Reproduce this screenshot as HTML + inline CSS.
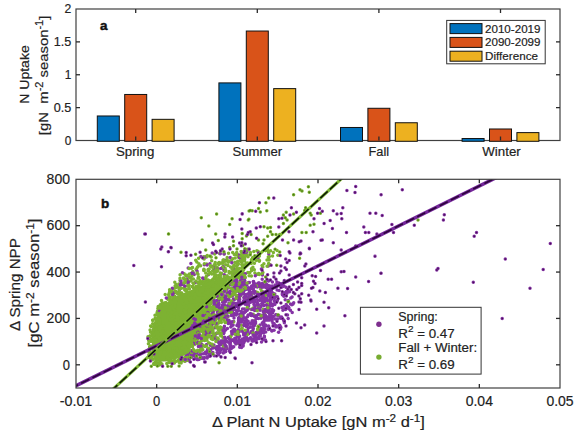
<!DOCTYPE html>
<html><head><meta charset="utf-8"><style>
html,body{margin:0;padding:0;background:#fff;width:575px;height:433px;overflow:hidden}
svg{display:block}
text{font-family:"Liberation Sans", sans-serif;fill:#222;stroke:#222;stroke-width:0.18}
.tk{font-size:12.5px}
.tk2{font-size:14px}
.lab{font-size:13.6px}
.lab2{font-size:14px}
.lg{font-size:11.5px}
.lg2{font-size:12px}
.bold{font-size:13.5px;font-weight:bold;fill:#111;stroke:#111;stroke-width:0.45}
</style></head><body>
<svg width="575" height="433" viewBox="0 0 575 433">
<defs><clipPath id="clipb"><rect x="76" y="179.3" width="484" height="208.7"/></clipPath></defs>
<rect x="76" y="9" width="484" height="131.5" fill="none" stroke="#404040" stroke-width="1.2"/>
<rect x="97.30" y="115.98" width="22" height="25.32" fill="#0072BD" stroke="#111" stroke-width="1"/>
<rect x="124.70" y="94.47" width="22" height="46.83" fill="#D95319" stroke="#111" stroke-width="1"/>
<rect x="152.10" y="119.33" width="22" height="21.97" fill="#EDB120" stroke="#111" stroke-width="1"/>
<rect x="218.90" y="82.90" width="22" height="58.40" fill="#0072BD" stroke="#111" stroke-width="1"/>
<rect x="246.30" y="31.03" width="22" height="110.27" fill="#D95319" stroke="#111" stroke-width="1"/>
<rect x="273.70" y="88.62" width="22" height="52.68" fill="#EDB120" stroke="#111" stroke-width="1"/>
<rect x="340.50" y="127.48" width="22" height="13.82" fill="#0072BD" stroke="#111" stroke-width="1"/>
<rect x="367.90" y="108.28" width="22" height="33.02" fill="#D95319" stroke="#111" stroke-width="1"/>
<rect x="395.30" y="122.75" width="22" height="18.55" fill="#EDB120" stroke="#111" stroke-width="1"/>
<rect x="462.10" y="138.53" width="22" height="2.77" fill="#0072BD" stroke="#111" stroke-width="1"/>
<rect x="489.50" y="128.99" width="22" height="12.31" fill="#D95319" stroke="#111" stroke-width="1"/>
<rect x="516.90" y="132.61" width="22" height="8.69" fill="#EDB120" stroke="#111" stroke-width="1"/>
<text x="71.3" y="144.90" text-anchor="end" class="tk" textLength="6.6" lengthAdjust="spacingAndGlyphs">0</text>
<line x1="76" y1="107.62" x2="80" y2="107.62" stroke="#2a2a2a" stroke-width="1.3"/>
<line x1="560" y1="107.62" x2="556" y2="107.62" stroke="#2a2a2a" stroke-width="1.3"/>
<text x="71.3" y="112.03" text-anchor="end" class="tk" textLength="17.6" lengthAdjust="spacingAndGlyphs">0.5</text>
<line x1="76" y1="74.75" x2="80" y2="74.75" stroke="#2a2a2a" stroke-width="1.3"/>
<line x1="560" y1="74.75" x2="556" y2="74.75" stroke="#2a2a2a" stroke-width="1.3"/>
<text x="71.3" y="79.15" text-anchor="end" class="tk" textLength="6.6" lengthAdjust="spacingAndGlyphs">1</text>
<line x1="76" y1="41.88" x2="80" y2="41.88" stroke="#2a2a2a" stroke-width="1.3"/>
<line x1="560" y1="41.88" x2="556" y2="41.88" stroke="#2a2a2a" stroke-width="1.3"/>
<text x="71.3" y="46.27" text-anchor="end" class="tk" textLength="17.6" lengthAdjust="spacingAndGlyphs">1.5</text>
<text x="71.3" y="13.40" text-anchor="end" class="tk" textLength="6.8" lengthAdjust="spacingAndGlyphs">2</text>
<line x1="135.70" y1="140.5" x2="135.70" y2="136.5" stroke="#2a2a2a" stroke-width="1.3"/>
<line x1="135.70" y1="9" x2="135.70" y2="13" stroke="#2a2a2a" stroke-width="1.3"/>
<text x="135.10" y="155.8" text-anchor="middle" class="tk" textLength="38.4" lengthAdjust="spacingAndGlyphs">Spring</text>
<line x1="257.30" y1="140.5" x2="257.30" y2="136.5" stroke="#2a2a2a" stroke-width="1.3"/>
<line x1="257.30" y1="9" x2="257.30" y2="13" stroke="#2a2a2a" stroke-width="1.3"/>
<text x="257.25" y="155.8" text-anchor="middle" class="tk" textLength="49.7" lengthAdjust="spacingAndGlyphs">Summer</text>
<line x1="378.90" y1="140.5" x2="378.90" y2="136.5" stroke="#2a2a2a" stroke-width="1.3"/>
<line x1="378.90" y1="9" x2="378.90" y2="13" stroke="#2a2a2a" stroke-width="1.3"/>
<text x="378.80" y="155.8" text-anchor="middle" class="tk" textLength="20.6" lengthAdjust="spacingAndGlyphs">Fall</text>
<line x1="500.50" y1="140.5" x2="500.50" y2="136.5" stroke="#2a2a2a" stroke-width="1.3"/>
<line x1="500.50" y1="9" x2="500.50" y2="13" stroke="#2a2a2a" stroke-width="1.3"/>
<text x="501.55" y="155.8" text-anchor="middle" class="tk" textLength="38.5" lengthAdjust="spacingAndGlyphs">Winter</text>
<text x="100" y="29.9" class="bold">a</text>
<text transform="translate(28.8,74.5) rotate(-90)" text-anchor="middle" class="lab" textLength="58.5" lengthAdjust="spacingAndGlyphs">N Uptake</text>
<text transform="translate(48.3,75.4) rotate(-90)" text-anchor="middle" class="lab" textLength="119.5" lengthAdjust="spacingAndGlyphs">[gN&#160; m<tspan dy="-5.5" font-size="10">-2</tspan><tspan dy="5.5"> season</tspan><tspan dy="-5.5" font-size="10">-1</tspan><tspan dy="5.5">]</tspan></text>
<rect x="446.7" y="20.4" width="98.5" height="43.4" fill="#fff" stroke="#333" stroke-width="1"/>
<rect x="450" y="23.60" width="32" height="10" fill="#0072BD" stroke="#111" stroke-width="1"/>
<text x="485" y="32.60" class="lg" textLength="55.5" lengthAdjust="spacingAndGlyphs">2010-2019</text>
<rect x="450" y="37.40" width="32" height="10" fill="#D95319" stroke="#111" stroke-width="1"/>
<text x="485" y="46.40" class="lg" textLength="55.5" lengthAdjust="spacingAndGlyphs">2090-2099</text>
<rect x="450" y="51.20" width="32" height="10" fill="#EDB120" stroke="#111" stroke-width="1"/>
<text x="485" y="60.20" class="lg" textLength="53" lengthAdjust="spacingAndGlyphs">Difference</text>
<g clip-path="url(#clipb)"><style>.dg{stroke:#7DB232;stroke-width:3.5;stroke-linecap:round;fill:none}.dp{stroke:#8533A5;stroke-width:3.5;stroke-linecap:round;fill:none}.eg{stroke:#4a7818;stroke-width:1.7;stroke-linecap:round;fill:none}.ep{stroke:#4a1258;stroke-width:1.7;stroke-linecap:round;fill:none}</style><path class="dp" d="M260.4 330.0h0M263.9 325.8h0"/><path class="dg" d="M193.4 278.9h0M241.2 277.8h0M258.7 273.4h0"/><path class="dp" d="M257.1 337.8h0"/><path class="dg" d="M258.2 251.6h0M221.6 273.6h0"/><path class="dp" d="M244.2 282.9h0M264.0 327.5h0"/><path class="dg" d="M155.1 318.6h0M196.5 269.6h0M246.9 251.6h0"/><path class="dp" d="M269.2 310.8h0"/><path class="dg" d="M195.2 288.2h0M253.8 251.4h0"/><path class="dp" d="M214.1 267.4h0"/><path class="dg" d="M244.4 258.1h0M199.4 328.2h0"/><path class="dp" d="M254.7 337.1h0"/><path class="dg" d="M227.2 257.6h0M218.7 297.0h0M223.1 260.3h0"/><path class="dp" d="M194.2 274.5h0"/><path class="dg" d="M262.1 265.6h0"/><path class="dp" d="M270.3 297.9h0M198.6 283.0h0M276.2 285.4h0M270.7 294.6h0"/><path class="dg" d="M229.4 282.3h0M189.0 288.3h0"/><path class="dp" d="M256.1 335.2h0M262.5 283.2h0M229.3 350.9h0"/><path class="dg" d="M220.7 277.8h0"/><path class="dp" d="M179.6 289.5h0"/><path class="dg" d="M185.2 357.6h0"/><path class="dp" d="M208.3 350.7h0M293.7 302.7h0"/><path class="dg" d="M161.5 300.4h0M237.7 277.6h0M186.1 290.4h0"/><path class="dp" d="M201.2 357.0h0"/><path class="dg" d="M234.9 273.7h0M247.6 264.5h0M165.9 303.2h0"/><path class="dp" d="M190.1 352.5h0M224.3 274.8h0"/><path class="dg" d="M222.1 268.2h0M212.7 270.8h0M256.9 250.7h0"/><path class="dp" d="M258.4 282.9h0M273.6 310.4h0M208.3 274.8h0M262.6 332.0h0M203.5 353.7h0"/><path class="dg" d="M250.1 254.2h0M229.9 281.4h0M241.4 271.4h0M200.7 283.3h0M247.4 264.3h0M179.0 361.9h0M200.7 327.2h0M193.0 283.1h0M218.8 275.6h0"/><path class="dp" d="M260.3 336.1h0M275.4 319.1h0M220.9 350.1h0"/><path class="dg" d="M151.6 356.1h0M166.0 302.7h0M211.2 257.1h0M202.7 281.6h0"/><path class="dp" d="M288.2 318.5h0"/><path class="dg" d="M170.9 362.1h0M228.3 262.2h0"/><path class="dp" d="M288.1 307.2h0M188.9 360.8h0"/><path class="dg" d="M198.1 266.5h0M177.6 293.4h0M233.8 269.5h0"/><path class="dp" d="M201.2 354.0h0"/><path class="dg" d="M206.7 263.9h0M215.3 266.8h0M178.1 294.1h0M215.2 304.3h0"/><path class="dp" d="M253.5 281.4h0"/><path class="dg" d="M149.3 356.9h0M211.7 260.8h0M181.7 293.0h0"/><path class="dp" d="M271.1 290.8h0"/><path class="dg" d="M219.7 277.2h0M251.4 275.9h0M150.6 341.3h0M184.0 279.0h0M199.9 282.8h0"/><path class="dp" d="M270.7 297.9h0M267.7 317.3h0M284.7 309.3h0M270.0 305.0h0M290.5 304.1h0M256.8 338.2h0"/><path class="dg" d="M205.6 319.0h0"/><path class="dp" d="M257.4 333.6h0M272.3 319.3h0"/><path class="dg" d="M197.0 330.7h0M212.2 307.3h0M228.8 280.0h0M150.3 352.4h0M249.9 272.5h0M232.2 279.7h0M170.4 296.9h0"/><path class="dp" d="M284.3 322.7h0M277.4 318.9h0"/><path class="dg" d="M193.4 352.6h0M241.1 251.6h0M213.4 270.9h0"/><path class="dp" d="M263.7 324.3h0"/><path class="dg" d="M239.8 255.3h0"/><path class="dp" d="M186.1 357.1h0"/><path class="dg" d="M159.6 362.3h0M161.5 305.0h0M181.7 361.0h0M218.9 294.0h0M214.3 304.0h0"/><path class="dp" d="M288.7 307.3h0"/><path class="dg" d="M215.2 262.6h0M148.7 340.2h0"/><path class="dp" d="M255.0 340.7h0M290.4 310.2h0"/><path class="dg" d="M217.3 267.5h0M254.9 273.1h0"/><path class="dp" d="M283.3 294.6h0M274.8 294.1h0M199.0 331.7h0M251.8 339.3h0M276.0 287.1h0M276.2 315.1h0"/><path class="dg" d="M158.8 307.7h0M223.1 288.8h0"/><path class="dp" d="M233.7 267.9h0M196.1 358.3h0M202.7 277.9h0"/><path class="dg" d="M155.0 315.3h0M148.7 351.7h0"/><path class="dp" d="M225.3 348.5h0"/><path class="dg" d="M167.8 299.2h0"/><path class="dp" d="M195.5 354.7h0"/><path class="dg" d="M240.6 259.2h0"/><path class="dp" d="M261.4 328.4h0"/><path class="dg" d="M191.9 275.7h0M243.3 265.4h0"/><path class="dp" d="M269.4 328.6h0M262.2 331.8h0"/><path class="dg" d="M214.4 304.1h0"/><path class="dp" d="M196.1 357.9h0"/><path class="dg" d="M181.5 359.7h0M210.3 272.5h0M240.9 261.7h0M238.1 273.1h0"/><path class="dp" d="M284.2 321.1h0"/><path class="dg" d="M157.9 308.5h0M157.2 312.5h0"/><path class="dp" d="M213.4 266.5h0M275.3 325.8h0"/><path class="dg" d="M233.5 267.3h0M215.6 276.3h0"/><path class="dp" d="M209.7 353.6h0M269.1 327.7h0M185.5 360.2h0"/><path class="dg" d="M193.6 288.2h0M176.0 284.4h0M150.4 346.1h0M220.5 275.4h0M156.7 362.4h0"/><path class="dp" d="M257.8 331.9h0"/><path class="dg" d="M168.5 297.8h0M243.4 266.6h0M236.0 281.4h0"/><path class="dp" d="M243.8 342.7h0"/><path class="dg" d="M180.2 361.0h0"/><path class="dp" d="M272.8 310.8h0"/><path class="dg" d="M259.3 261.2h0M150.6 326.0h0"/><path class="dp" d="M253.3 339.6h0"/><path class="dg" d="M207.2 255.4h0M188.3 283.9h0"/><path class="dp" d="M242.2 259.9h0M267.8 290.2h0M266.0 326.1h0"/><path class="dg" d="M242.6 274.5h0M150.6 332.2h0M184.2 273.7h0"/><path class="dp" d="M243.0 344.8h0"/><path class="dg" d="M184.7 290.0h0"/><path class="dp" d="M270.2 305.1h0"/><path class="dg" d="M199.0 277.4h0"/><path class="dp" d="M196.0 356.7h0M286.3 291.4h0M268.3 266.1h0M191.6 357.2h0"/><path class="dg" d="M270.6 250.8h0M151.5 326.6h0M241.0 278.2h0"/><path class="dp" d="M237.7 255.0h0"/><path class="dg" d="M172.0 291.4h0"/><path class="dp" d="M214.6 269.9h0"/><path class="dg" d="M199.0 327.0h0"/><path class="dp" d="M195.5 335.1h0M285.2 299.7h0M268.1 310.4h0"/><path class="dg" d="M242.0 257.5h0M149.7 340.8h0M205.0 278.5h0"/><path class="dp" d="M278.7 315.7h0"/><path class="dg" d="M251.7 270.4h0M239.8 273.7h0"/><path class="dp" d="M274.2 323.7h0M272.3 309.8h0"/><path class="dg" d="M252.9 267.3h0M204.8 317.9h0M155.2 362.0h0"/><path class="dp" d="M292.1 297.0h0M195.4 282.4h0"/><path class="dg" d="M216.2 271.9h0"/><path class="dp" d="M260.6 333.7h0"/><path class="dg" d="M217.8 270.9h0M197.8 286.3h0M229.7 277.8h0"/><path class="dp" d="M204.3 264.8h0M271.0 315.0h0"/><path class="dg" d="M242.6 272.4h0"/><path class="dp" d="M203.9 358.7h0"/><path class="dg" d="M242.0 253.2h0"/><path class="dp" d="M194.6 354.0h0M174.1 292.8h0M256.1 338.8h0M282.4 294.7h0"/><path class="dg" d="M178.8 292.3h0"/><path class="dp" d="M258.0 257.9h0M252.9 341.0h0"/><path class="dg" d="M247.1 264.8h0"/><path class="dp" d="M271.9 330.6h0M219.5 352.4h0M199.2 359.3h0"/><path class="dg" d="M161.6 306.3h0"/><path class="dp" d="M203.7 278.5h0"/><path class="dg" d="M186.3 289.3h0M198.5 276.9h0M219.2 277.2h0M162.8 303.1h0M204.9 256.7h0M236.1 281.5h0M204.1 259.0h0M169.1 362.6h0"/><path class="dp" d="M212.9 352.6h0M264.5 319.9h0"/><path class="dg" d="M155.0 364.3h0M224.2 253.8h0"/><path class="dp" d="M263.4 339.7h0M281.6 317.1h0M238.6 255.1h0"/><path class="dg" d="M243.2 260.3h0M265.7 250.6h0"/><path class="dp" d="M271.7 293.1h0M220.2 352.2h0M270.1 302.1h0"/><path class="dg" d="M269.3 256.6h0"/><path class="dp" d="M263.1 285.2h0"/><path class="dg" d="M236.6 269.0h0M150.1 329.9h0M148.4 343.8h0M177.4 287.1h0M222.0 262.7h0M155.5 318.3h0"/><path class="dp" d="M266.3 317.0h0M224.5 349.6h0"/><path class="dg" d="M206.3 279.7h0"/><path class="dp" d="M284.0 306.4h0"/><path class="dg" d="M188.8 356.3h0"/><path class="dp" d="M190.9 263.6h0M266.0 319.9h0M276.9 282.0h0"/><path class="dg" d="M190.9 281.0h0"/><path class="dp" d="M265.7 281.6h0"/><path class="dg" d="M226.9 259.4h0M254.4 263.2h0M151.9 354.4h0M269.8 264.6h0"/><path class="dp" d="M233.8 282.6h0M264.4 336.3h0"/><path class="dg" d="M208.6 281.0h0"/><path class="dp" d="M211.1 353.0h0"/><path class="dg" d="M197.2 286.4h0M192.8 271.4h0"/><path class="dp" d="M288.3 300.5h0"/><path class="dg" d="M188.6 359.4h0M150.1 346.8h0"/><path class="dp" d="M224.2 351.2h0"/><path class="dg" d="M189.2 285.4h0M277.1 250.6h0"/><path class="dp" d="M267.3 320.1h0"/><path class="dg" d="M247.6 263.1h0M183.2 284.6h0"/><path class="dp" d="M232.8 347.3h0M193.5 352.6h0"/><path class="dg" d="M214.7 270.9h0"/><path class="dp" d="M250.8 338.3h0"/><path class="dg" d="M193.3 273.1h0M178.8 284.1h0M161.8 307.1h0"/><path class="dp" d="M265.8 325.2h0"/><path class="dg" d="M173.1 295.3h0M175.3 290.9h0"/><path class="dp" d="M272.9 304.6h0"/><path class="dg" d="M185.7 289.6h0M213.1 279.1h0"/><path class="dp" d="M253.3 281.8h0M268.3 288.1h0"/><path class="dg" d="M210.7 309.4h0"/><path class="dp" d="M284.1 292.7h0"/><path class="dg" d="M196.1 269.2h0M192.5 267.4h0M165.2 302.8h0M168.9 298.3h0M175.6 361.4h0"/><path class="dp" d="M191.8 356.8h0"/><path class="dg" d="M152.8 320.3h0"/><path class="dp" d="M185.3 361.0h0"/><path class="dg" d="M187.9 359.9h0M176.1 292.2h0M232.0 276.5h0M160.4 309.9h0M242.1 278.5h0"/><path class="dp" d="M200.0 326.6h0M207.3 356.8h0M271.7 298.9h0M279.6 325.3h0M191.5 273.3h0"/><path class="dg" d="M214.4 277.9h0"/><path class="dp" d="M267.7 317.6h0"/><path class="dg" d="M243.7 269.5h0"/><path class="dp" d="M225.7 351.6h0M274.5 298.5h0"/><path class="dg" d="M240.4 280.0h0M219.6 253.5h0"/><path class="dp" d="M218.6 354.7h0"/><path class="dg" d="M158.2 306.6h0M196.1 333.1h0"/><path class="dp" d="M293.0 303.9h0M277.4 283.6h0"/><path class="dg" d="M225.2 268.2h0M222.9 262.9h0M246.3 263.3h0M181.5 288.3h0"/><path class="dp" d="M197.3 359.5h0"/><path class="dg" d="M244.1 256.7h0"/><path class="dp" d="M259.3 282.9h0"/><path class="dg" d="M179.5 362.4h0M186.7 358.9h0"/><path class="dp" d="M278.7 325.7h0"/><path class="dg" d="M243.8 251.3h0M234.0 272.1h0"/><path class="dp" d="M268.3 285.4h0"/><path class="dg" d="M242.8 272.3h0"/><path class="dp" d="M271.0 318.3h0M242.9 281.2h0"/><path class="dg" d="M243.2 274.2h0M217.1 278.5h0"/><path class="dp" d="M197.9 332.7h0M188.3 358.9h0"/><path class="dg" d="M189.2 353.0h0M242.8 266.6h0M262.8 266.9h0"/><path class="dp" d="M244.0 280.3h0"/><path class="dg" d="M192.3 286.5h0M230.8 278.8h0M199.1 284.4h0"/><path class="dp" d="M241.1 344.0h0"/><path class="dg" d="M244.7 259.1h0"/><path class="dp" d="M268.4 312.6h0"/><path class="dg" d="M216.4 279.3h0M235.0 279.8h0"/><path class="dp" d="M218.2 349.6h0M212.4 353.5h0"/><path class="dg" d="M217.1 296.2h0M152.3 359.7h0M172.0 294.0h0M227.6 285.7h0M273.4 252.5h0"/><path class="dp" d="M276.0 325.7h0M263.6 325.2h0M193.0 273.3h0"/><path class="dg" d="M151.6 340.4h0M189.4 289.0h0M232.9 276.8h0M203.7 256.8h0M246.8 254.8h0M235.2 258.1h0M226.0 261.0h0M208.7 273.9h0"/><path class="dp" d="M253.7 283.1h0M181.2 283.0h0M275.5 296.6h0"/><path class="dg" d="M237.9 264.6h0M157.5 311.3h0"/><path class="dp" d="M234.6 274.2h0"/><path class="dg" d="M265.4 250.6h0M213.4 306.1h0"/><path class="dp" d="M261.6 332.2h0M280.3 329.3h0"/><path class="dg" d="M180.0 280.5h0M173.3 289.1h0M214.2 264.8h0"/><path class="dp" d="M268.8 253.9h0M159.4 311.2h0"/><path class="dg" d="M187.5 285.9h0M184.5 361.1h0M212.4 280.0h0"/><path class="dp" d="M252.1 340.9h0"/><path class="dg" d="M148.9 354.8h0M229.1 260.9h0M179.1 291.6h0M243.4 265.1h0M228.0 265.5h0M199.2 286.2h0M192.5 354.7h0M259.4 255.9h0M196.8 261.9h0M161.9 303.6h0"/><path class="dp" d="M272.3 306.1h0"/><path class="dg" d="M161.2 307.8h0M192.3 286.7h0M205.2 281.5h0M174.8 282.3h0M204.1 320.8h0M229.2 282.1h0"/><path class="dp" d="M273.3 293.4h0"/><path class="dg" d="M233.0 276.1h0M177.5 293.0h0"/><path class="dp" d="M204.4 357.4h0M265.2 319.7h0"/><path class="dg" d="M242.0 261.8h0M247.2 249.3h0M211.7 274.0h0M159.4 365.0h0M206.3 314.1h0M228.6 284.6h0"/><path class="dp" d="M220.3 253.7h0M263.9 287.0h0"/><path class="dg" d="M229.5 280.2h0M197.2 267.5h0M185.5 356.9h0M215.3 264.8h0"/><path class="dp" d="M274.3 301.3h0M223.2 266.4h0M282.3 293.7h0"/><path class="dg" d="M209.2 268.9h0"/><path class="dp" d="M255.5 340.6h0M270.1 294.4h0M274.0 297.0h0M277.1 290.1h0M273.1 317.1h0M197.0 355.3h0"/><path class="dg" d="M227.1 275.7h0"/><path class="dp" d="M273.1 323.5h0"/><path class="dg" d="M249.1 275.7h0"/><path class="dp" d="M287.0 293.2h0M269.9 286.0h0M292.2 312.6h0M268.5 281.0h0"/><path class="dg" d="M152.7 323.8h0"/><path class="dp" d="M197.2 359.4h0"/><path class="dg" d="M215.7 279.2h0M150.5 335.9h0M169.0 361.3h0M176.2 291.9h0M244.1 274.7h0M175.1 286.0h0"/><path class="dp" d="M272.1 321.2h0M259.2 338.4h0M283.5 319.9h0M264.1 286.4h0"/><path class="dg" d="M150.0 336.1h0M244.5 261.0h0"/><path class="dp" d="M277.4 300.5h0M280.0 326.1h0"/><path class="dg" d="M251.4 268.7h0M232.7 252.6h0M204.1 270.1h0M190.6 278.0h0M257.4 274.2h0M208.3 270.9h0M229.2 278.7h0M178.0 360.5h0"/><path class="dp" d="M274.5 296.9h0"/><path class="dg" d="M235.6 279.6h0M241.8 278.8h0"/><path class="dp" d="M272.2 285.9h0M264.9 325.1h0"/><path class="dg" d="M188.8 354.4h0"/><path class="dp" d="M209.9 263.7h0"/><path class="dg" d="M259.3 260.2h0"/><path class="dp" d="M272.3 304.4h0M231.3 348.6h0M201.9 358.3h0"/><path class="dg" d="M206.3 317.6h0M177.1 286.5h0"/><path class="dp" d="M198.4 359.6h0M250.6 338.2h0M217.4 269.3h0M182.4 272.8h0M278.3 285.2h0"/><path class="dg" d="M236.5 254.8h0"/><path class="dp" d="M264.6 319.1h0"/><path class="dg" d="M269.1 259.9h0M186.7 355.8h0M228.1 284.3h0M244.7 253.4h0M241.9 268.0h0M235.0 274.2h0"/><path class="dp" d="M272.4 281.9h0M290.8 298.0h0"/><path class="dg" d="M225.7 264.8h0"/><path class="dp" d="M208.5 351.4h0M197.1 271.2h0"/><path class="dg" d="M196.0 280.9h0M226.4 286.3h0"/><path class="dp" d="M261.4 268.9h0"/><path class="dg" d="M233.2 282.8h0M175.8 287.5h0M174.6 295.9h0M187.8 280.0h0M262.9 272.4h0M161.9 364.1h0M208.4 270.0h0"/><path class="dp" d="M271.0 317.7h0M196.8 331.0h0"/><path class="dg" d="M251.2 263.5h0M247.8 272.5h0M231.5 260.4h0"/><path class="dp" d="M181.0 281.1h0"/><path class="dg" d="M243.3 260.6h0"/><path class="dp" d="M268.6 325.9h0M277.3 296.8h0M249.4 282.6h0"/><path class="dg" d="M237.7 261.2h0"/><path class="dp" d="M283.0 295.1h0"/><path class="dg" d="M206.9 316.9h0M214.2 273.0h0M191.2 356.5h0"/><path class="dp" d="M220.2 349.6h0M190.5 352.8h0"/><path class="dg" d="M250.4 252.6h0M242.7 277.4h0"/><path class="dp" d="M223.9 270.5h0M271.2 293.9h0M230.1 347.2h0M187.3 354.5h0"/><path class="dg" d="M169.4 298.5h0"/><path class="dp" d="M230.1 349.3h0"/><path class="dg" d="M237.3 269.4h0"/><path class="dp" d="M200.9 256.6h0"/><path class="dg" d="M169.0 297.7h0M228.5 253.2h0"/><path class="dp" d="M239.7 347.3h0M264.6 285.1h0M199.6 351.4h0"/><path class="dg" d="M219.1 262.4h0M222.6 267.1h0"/><path class="dp" d="M181.8 284.6h0M283.9 296.3h0M273.3 316.3h0M286.0 287.3h0M282.9 310.3h0"/><path class="dg" d="M174.3 363.0h0M180.0 278.2h0M243.3 270.1h0"/><path class="dp" d="M284.0 285.9h0M269.1 320.1h0M172.3 288.2h0"/><path class="dg" d="M171.4 361.3h0"/><path class="dp" d="M206.0 353.9h0"/><path class="dg" d="M198.6 258.3h0M235.4 278.7h0"/><path class="dp" d="M269.4 308.2h0"/><path class="dg" d="M225.0 270.9h0M217.0 296.3h0M214.1 274.2h0M179.4 293.3h0"/><path class="dp" d="M265.2 286.3h0M291.9 304.8h0M286.2 304.4h0M255.3 275.8h0"/><path class="dg" d="M168.5 298.8h0"/><path class="dp" d="M256.2 332.4h0"/><path class="dg" d="M224.7 289.1h0M188.6 281.6h0M231.9 272.1h0M171.4 361.7h0M160.3 304.7h0"/><path class="dp" d="M250.6 337.8h0M224.2 260.3h0M262.4 275.0h0M245.2 282.9h0M260.3 330.4h0"/><path class="dg" d="M236.8 266.6h0"/><path class="dp" d="M263.6 332.9h0M285.5 293.9h0M272.0 305.0h0"/><path class="dg" d="M149.9 352.0h0M268.7 259.2h0"/><path class="dp" d="M269.0 319.8h0"/><path class="dg" d="M220.7 263.2h0M204.7 318.5h0"/><path class="dp" d="M260.6 331.6h0M196.8 352.5h0M207.1 265.1h0"/><path class="dg" d="M200.1 280.6h0"/><path class="dp" d="M272.7 312.8h0"/><path class="dg" d="M168.6 294.7h0M173.6 297.1h0M230.5 267.0h0M182.7 359.0h0M238.5 257.3h0"/><path class="dp" d="M193.6 354.3h0M261.2 284.5h0M241.6 281.6h0"/><path class="dg" d="M215.0 304.4h0M212.1 308.9h0"/><path class="dp" d="M262.8 328.9h0M263.8 322.3h0"/><path class="dg" d="M218.8 264.5h0M162.7 304.7h0M149.7 336.6h0M187.1 357.7h0M228.9 282.6h0"/><path class="dp" d="M269.6 318.9h0"/><path class="dg" d="M256.4 260.6h0M268.3 257.1h0"/><path class="dp" d="M226.7 286.1h0"/><path class="dg" d="M203.9 269.2h0M204.4 263.8h0M169.6 289.8h0M192.0 278.9h0M243.3 265.6h0"/><path class="dp" d="M209.5 356.2h0"/><path class="dg" d="M217.7 269.8h0"/><path class="dp" d="M224.9 349.0h0M251.8 339.2h0"/><path class="dg" d="M189.0 277.1h0"/><path class="dp" d="M242.5 342.2h0"/><path class="dg" d="M244.7 265.9h0M151.5 348.7h0"/><path class="dp" d="M195.1 351.6h0M289.5 291.8h0"/><path class="dg" d="M238.3 263.7h0M188.2 285.1h0"/><path class="dp" d="M187.4 282.2h0"/><path class="dg" d="M239.3 272.0h0M225.8 270.4h0"/><path class="dp" d="M192.9 352.0h0M187.2 355.3h0"/><path class="dg" d="M180.5 361.6h0M205.5 283.4h0"/><path class="dp" d="M278.1 284.7h0M248.0 341.0h0"/><path class="dg" d="M277.9 255.2h0"/><path class="dp" d="M264.4 336.9h0M272.3 292.9h0M269.7 314.5h0"/><path class="dg" d="M179.8 287.8h0M208.1 280.1h0M224.7 261.3h0M187.4 357.3h0M268.6 263.5h0"/><path class="dp" d="M263.5 330.6h0"/><path class="dg" d="M233.3 279.9h0M184.2 359.6h0"/><path class="dp" d="M278.7 315.7h0M270.4 300.1h0M259.3 335.7h0"/><path class="dg" d="M179.7 359.9h0"/><path class="dp" d="M225.1 351.7h0"/><path class="dg" d="M259.3 274.6h0M236.2 271.7h0M212.9 267.8h0M211.0 266.5h0M157.4 315.2h0"/><path class="dp" d="M211.0 353.8h0"/><path class="dg" d="M188.0 360.2h0M245.4 277.6h0"/><path class="dp" d="M253.9 336.0h0M209.5 355.6h0"/><path class="dg" d="M272.5 256.1h0M235.4 275.7h0"/><path class="dp" d="M180.9 284.4h0M275.8 314.7h0M272.1 312.0h0"/><path class="dg" d="M206.4 276.2h0M234.9 262.3h0M229.5 272.7h0"/><path class="dp" d="M180.3 285.1h0M272.2 309.7h0"/><path class="dg" d="M239.5 277.9h0M166.8 363.4h0M254.3 269.7h0M239.4 276.5h0"/><path class="dp" d="M223.3 348.7h0"/><path class="dg" d="M198.9 263.8h0"/><path class="dp" d="M223.3 353.1h0M276.0 326.9h0"/><path class="dg" d="M208.2 281.8h0M152.7 320.2h0"/><path class="dp" d="M268.3 316.9h0"/><path class="dg" d="M185.9 275.8h0"/><path class="dp" d="M188.3 282.1h0"/><path class="dg" d="M210.3 265.4h0"/><path class="dp" d="M278.9 327.2h0"/><path class="dg" d="M193.6 283.4h0"/><path class="dp" d="M261.5 284.4h0"/><path class="dg" d="M200.6 265.7h0"/><path class="dp" d="M188.2 267.9h0"/><path class="dg" d="M246.8 251.0h0"/><path class="dp" d="M270.4 294.9h0"/><path class="dg" d="M174.4 360.5h0"/><path class="dp" d="M225.1 351.5h0"/><path class="dg" d="M160.0 307.7h0M160.3 306.8h0M179.2 288.9h0M216.1 270.0h0M149.6 346.9h0"/><path class="dp" d="M196.6 351.8h0"/><path class="dg" d="M195.7 260.2h0M204.8 283.1h0M184.8 361.1h0M197.5 329.9h0M181.1 363.1h0"/><path class="dp" d="M166.3 297.9h0M275.1 301.5h0"/><path class="dg" d="M233.8 279.6h0"/><path class="dp" d="M271.9 331.0h0"/><path class="dg" d="M169.7 291.4h0M183.8 358.2h0"/><path class="dp" d="M267.8 319.4h0"/><path class="dg" d="M241.7 264.4h0M214.7 254.0h0"/><path class="dp" d="M255.5 333.6h0M275.1 285.0h0"/><path class="dg" d="M158.4 364.6h0M205.7 277.8h0M192.9 286.6h0M202.2 321.4h0M169.2 293.3h0M251.4 259.8h0"/><path class="dp" d="M245.3 273.8h0"/><path class="dg" d="M234.3 254.5h0M243.2 254.6h0"/><path class="dp" d="M246.3 252.3h0"/><path class="dg" d="M154.2 364.3h0"/><path class="dp" d="M271.3 291.3h0"/><path class="dg" d="M246.6 255.7h0M224.2 276.6h0M149.1 336.7h0"/><path class="dp" d="M208.2 352.9h0M255.7 284.1h0M256.9 339.3h0M282.0 307.4h0"/><path class="dg" d="M149.2 349.2h0M220.7 291.7h0"/><path class="dp" d="M212.2 253.1h0M233.7 346.7h0"/><path class="dg" d="M237.0 271.9h0"/><path class="dp" d="M191.3 354.8h0M270.7 305.3h0"/><path class="dg" d="M183.5 278.0h0"/><path class="dp" d="M274.8 304.5h0"/><path class="dg" d="M252.7 257.6h0M242.2 267.5h0M156.7 364.8h0"/><path class="dp" d="M264.9 329.1h0M186.6 279.1h0"/><path class="dg" d="M263.9 263.8h0"/><path class="dp" d="M261.5 342.1h0"/><path class="dg" d="M184.3 287.9h0"/><path class="dp" d="M194.6 337.5h0"/><path class="dg" d="M236.1 263.2h0M176.5 292.0h0"/><path class="dp" d="M206.3 257.0h0M239.6 257.4h0M192.8 353.0h0M224.1 253.9h0M244.7 341.1h0M266.2 287.8h0"/><path class="dg" d="M240.4 275.2h0M220.8 292.9h0"/><path class="dp" d="M263.4 322.1h0"/><path class="dg" d="M163.8 305.8h0M195.8 288.0h0M197.2 273.1h0M153.8 363.4h0M150.1 347.4h0"/><path class="dp" d="M201.4 358.1h0M270.6 287.5h0"/><path class="dg" d="M158.7 363.9h0M191.5 268.3h0M181.4 293.2h0"/><path class="dp" d="M205.6 352.1h0M288.7 308.8h0"/><path class="dg" d="M240.4 260.6h0"/><path class="dp" d="M185.9 354.4h0M172.6 294.6h0M262.2 279.2h0M286.6 292.5h0"/><path class="dg" d="M205.7 272.9h0"/><path class="dp" d="M267.8 290.1h0M273.9 295.4h0M280.9 327.5h0"/><path class="dg" d="M220.7 250.9h0"/><path class="dp" d="M231.8 262.8h0M268.8 311.1h0M214.2 355.7h0"/><path class="dg" d="M240.8 256.3h0"/><path class="dp" d="M270.8 312.7h0"/><path class="dg" d="M189.2 268.4h0M261.9 273.4h0M189.0 277.1h0M207.7 282.1h0"/><path class="dp" d="M201.2 327.0h0M254.7 334.4h0"/><path class="dg" d="M208.2 269.5h0"/><path class="dp" d="M287.5 314.9h0"/><path class="dg" d="M218.5 263.3h0"/><path class="dp" d="M222.1 348.7h0M263.1 324.4h0"/><path class="dg" d="M199.9 327.6h0"/><path class="dp" d="M261.0 332.7h0M279.1 290.6h0"/><path class="dg" d="M257.1 256.1h0M236.7 252.5h0"/><path class="dp" d="M220.7 268.5h0"/><path class="dg" d="M186.2 290.9h0M216.8 279.3h0M189.4 274.0h0M175.4 361.0h0"/><path class="dp" d="M268.4 329.6h0"/><path class="dg" d="M179.3 359.6h0M149.1 341.1h0M202.7 258.0h0M163.3 305.1h0M238.8 272.4h0M201.1 284.0h0M236.7 274.0h0M185.1 280.9h0M233.8 281.2h0"/><path class="dp" d="M287.8 290.6h0"/><path class="dg" d="M185.7 279.5h0"/><path class="dp" d="M280.5 318.3h0"/><path class="dg" d="M204.9 318.7h0"/><path class="dp" d="M269.1 288.4h0"/><path class="dg" d="M196.0 286.2h0M203.8 270.4h0"/><path class="dp" d="M230.2 257.6h0"/><path class="dg" d="M191.8 352.3h0M225.3 271.6h0"/><path class="dp" d="M278.6 332.3h0"/><path class="dg" d="M157.9 364.1h0M222.9 263.2h0M186.9 359.4h0M203.0 284.6h0M217.0 277.9h0M267.1 266.2h0"/><path class="dp" d="M194.8 352.1h0"/><path class="dg" d="M172.2 361.8h0M216.3 275.3h0"/><path class="dp" d="M258.0 283.9h0"/><path class="dg" d="M158.4 313.5h0M152.8 359.0h0"/><path class="dp" d="M274.0 330.2h0"/><path class="dg" d="M220.3 272.9h0M211.0 307.4h0"/><path class="dp" d="M192.2 355.1h0"/><path class="dg" d="M267.9 250.4h0M151.3 338.9h0M210.4 281.0h0M229.2 272.7h0M152.4 341.6h0"/><path class="dp" d="M271.6 292.1h0M278.8 282.9h0"/><path class="dg" d="M245.8 251.2h0M229.8 272.8h0M149.6 349.2h0M180.1 274.8h0M237.8 264.0h0M198.0 274.2h0M214.5 276.7h0"/><path class="dp" d="M227.0 348.6h0"/><path class="dg" d="M157.1 313.8h0M223.4 260.0h0M150.6 358.6h0M267.0 259.9h0"/><path class="dp" d="M270.3 316.0h0"/><path class="dg" d="M232.9 258.7h0"/><path class="dp" d="M199.6 354.5h0"/><path class="dg" d="M233.8 265.2h0M186.3 275.6h0"/><path class="dp" d="M274.0 296.9h0M185.3 359.4h0M209.1 351.5h0"/><path class="dg" d="M245.3 264.7h0M183.9 283.1h0"/><path class="dp" d="M259.5 331.0h0"/><path class="dg" d="M160.5 362.7h0M241.0 274.7h0"/><path class="dp" d="M275.4 301.5h0M216.7 349.5h0M189.2 359.2h0"/><path class="dg" d="M234.4 266.1h0M232.0 274.1h0M235.6 270.8h0"/><path class="dp" d="M255.1 339.6h0M237.0 283.1h0M194.4 355.8h0M270.9 318.9h0"/><path class="dg" d="M248.0 256.7h0M148.0 336.7h0M232.0 269.0h0M227.6 286.3h0"/><path class="dp" d="M270.7 303.0h0"/><path class="dg" d="M239.3 268.4h0"/><path class="dp" d="M265.7 332.1h0M224.3 349.4h0M282.4 286.7h0"/><path class="dg" d="M204.6 318.4h0M197.9 282.2h0M235.2 278.1h0"/><path class="dp" d="M232.3 283.6h0"/><path class="dg" d="M179.9 288.4h0M151.7 357.8h0"/><path class="dp" d="M248.1 340.1h0"/><path class="dg" d="M184.9 282.5h0"/><path class="dp" d="M207.2 358.1h0M184.7 285.9h0"/><path class="dg" d="M207.1 256.6h0M237.0 270.5h0M244.5 275.6h0"/><path class="dp" d="M285.5 309.5h0"/><path class="dg" d="M233.1 271.6h0M150.2 357.9h0"/><path class="dp" d="M266.5 284.2h0"/><path class="dg" d="M191.7 352.4h0"/><path class="dp" d="M243.1 346.0h0"/><path class="dg" d="M186.9 291.2h0"/><path class="dp" d="M217.2 352.5h0"/><path class="dg" d="M236.5 275.1h0M222.8 292.4h0"/><path class="dp" d="M248.6 282.5h0"/><path class="dg" d="M209.8 281.1h0M186.7 275.3h0"/><path class="dp" d="M241.5 347.5h0"/><path class="dg" d="M154.1 363.9h0"/><path class="dp" d="M287.4 306.4h0"/><path class="dg" d="M198.0 278.2h0M175.8 287.3h0M229.2 271.6h0"/><path class="dp" d="M265.4 339.9h0"/><path class="dg" d="M268.6 252.2h0M165.2 294.4h0"/><path class="dp" d="M244.5 312.4h0M247.8 324.2h0M236.9 296.1h0M234.8 286.6h0M227.4 293.1h0M265.4 311.2h0M256.3 309.8h0"/><path class="dg" d="M230.3 337.9h0"/><path class="dp" d="M217.4 347.0h0M254.7 315.8h0M207.9 350.0h0M254.8 301.8h0M210.3 315.1h0M264.8 301.4h0M245.4 321.1h0M252.8 301.6h0M263.1 311.2h0"/><path class="dg" d="M256.4 292.1h0"/><path class="dp" d="M248.1 315.0h0"/><path class="dg" d="M229.1 287.5h0"/><path class="dp" d="M237.8 330.5h0M236.7 341.1h0M240.8 340.6h0M240.5 319.2h0M246.0 296.2h0M245.2 304.3h0M246.9 285.0h0M263.7 314.9h0M223.9 318.3h0M240.2 314.7h0M219.0 304.5h0M257.3 299.4h0"/><path class="dg" d="M227.1 322.1h0"/><path class="dp" d="M261.8 298.5h0M263.4 305.1h0M238.5 299.4h0M230.7 306.7h0M206.2 326.5h0M243.1 317.0h0M253.4 289.0h0M229.5 322.3h0M254.3 291.4h0M243.1 315.1h0"/><path class="dg" d="M212.2 346.9h0"/><path class="dp" d="M236.6 313.9h0"/><path class="dg" d="M201.0 341.3h0"/><path class="dp" d="M239.7 289.7h0M218.1 348.4h0M252.5 288.9h0M253.1 323.0h0M239.0 319.0h0M260.7 299.2h0M245.5 335.0h0M222.9 296.3h0M234.4 331.4h0M251.3 332.5h0"/><path class="dg" d="M229.6 322.1h0"/><path class="dp" d="M253.3 323.3h0M239.8 301.8h0M239.0 284.8h0M250.5 323.0h0M258.5 296.4h0M254.0 304.0h0M236.6 334.8h0M249.8 294.2h0M250.1 288.2h0M207.3 327.5h0M246.0 336.6h0M242.4 319.3h0M258.5 314.2h0M246.1 337.3h0M215.9 305.9h0M254.2 300.6h0M255.6 323.1h0"/><path class="dg" d="M258.0 292.8h0"/><path class="dp" d="M232.6 339.9h0M237.0 336.2h0"/><path class="dg" d="M262.4 296.0h0"/><path class="dp" d="M245.9 287.5h0M264.6 313.9h0M222.4 330.1h0M243.6 333.5h0"/><path class="dg" d="M255.0 315.7h0"/><path class="dp" d="M238.5 343.6h0"/><path class="dg" d="M202.4 329.1h0"/><path class="dp" d="M229.9 291.3h0"/><path class="dg" d="M263.3 309.3h0"/><path class="dp" d="M229.5 307.1h0M224.3 347.6h0M257.2 318.2h0M265.7 311.8h0M264.6 298.2h0M263.5 300.7h0M262.3 323.0h0M251.7 286.0h0M229.6 342.2h0M265.4 292.2h0"/><path class="dg" d="M213.3 307.9h0"/><path class="dp" d="M241.7 330.1h0M213.9 345.1h0"/><path class="dg" d="M223.1 305.3h0"/><path class="dp" d="M218.4 300.5h0"/><path class="dg" d="M216.6 317.7h0"/><path class="dp" d="M262.7 303.6h0M251.0 331.7h0M254.1 284.4h0M260.6 307.3h0M233.1 325.0h0M199.9 350.3h0M192.2 351.0h0M248.9 298.0h0M251.6 332.0h0M221.3 317.8h0M193.0 341.7h0M260.3 286.6h0M266.4 294.6h0M242.4 313.1h0M228.0 311.1h0M228.9 302.9h0M250.3 302.4h0M238.9 325.5h0M237.6 325.6h0"/><path class="dg" d="M264.5 314.1h0"/><path class="dp" d="M236.6 310.7h0M244.9 324.7h0M233.6 288.1h0M238.7 302.5h0"/><path class="dg" d="M240.9 329.0h0"/><path class="dp" d="M260.1 325.1h0M223.9 332.7h0"/><path class="dg" d="M251.9 293.9h0"/><path class="dp" d="M247.5 316.7h0M254.1 322.7h0M223.8 318.8h0M233.8 330.9h0M247.2 304.8h0M266.4 300.1h0"/><path class="dg" d="M260.7 289.1h0"/><path class="dp" d="M239.5 297.3h0M223.5 316.3h0"/><path class="dg" d="M214.8 305.8h0"/><path class="dp" d="M215.9 327.0h0M221.2 344.0h0M224.0 298.5h0M229.8 343.7h0M232.0 284.9h0M206.7 318.5h0"/><path class="dg" d="M254.4 320.8h0M225.9 346.7h0M242.2 328.2h0"/><path class="dp" d="M246.4 335.5h0"/><path class="dg" d="M220.2 309.3h0"/><path class="dp" d="M255.1 333.2h0"/><path class="dg" d="M265.4 295.5h0"/><path class="dp" d="M215.5 318.5h0M225.3 339.6h0M254.8 291.8h0M230.4 342.7h0M253.3 328.8h0M207.7 333.6h0M244.2 290.4h0M242.3 292.0h0M225.1 301.5h0M261.7 303.8h0"/><path class="dg" d="M245.5 311.2h0M223.6 308.5h0"/><path class="dp" d="M207.6 349.6h0M225.4 345.5h0M259.4 285.9h0M234.5 329.4h0M252.2 297.0h0M225.9 290.4h0M222.9 293.7h0M224.6 343.2h0M236.9 325.6h0M247.3 299.0h0M239.7 299.3h0"/><path class="dg" d="M219.3 320.6h0"/><path class="dp" d="M222.4 311.2h0M238.9 340.3h0M227.3 298.9h0M239.0 319.0h0M237.9 333.4h0M246.0 337.6h0M237.5 341.8h0M232.6 291.2h0M240.2 318.8h0"/><path class="dg" d="M237.9 343.1h0"/><path class="dp" d="M263.0 301.3h0M263.2 315.0h0M223.0 301.2h0M223.5 312.2h0M239.2 331.7h0M217.1 304.3h0M225.3 314.4h0M252.9 326.0h0M257.4 294.2h0M267.6 300.5h0M260.1 310.3h0M240.9 295.1h0M239.5 292.4h0M239.7 314.3h0M257.3 304.5h0M247.6 297.8h0M239.6 335.9h0"/><path class="dg" d="M224.6 340.2h0"/><path class="dp" d="M232.4 311.8h0M243.7 334.9h0"/><path class="dg" d="M229.3 304.2h0M253.1 308.1h0"/><path class="dp" d="M256.1 286.0h0M239.6 317.1h0M207.1 317.9h0"/><path class="dg" d="M215.1 308.4h0"/><path class="dp" d="M262.2 291.4h0M232.3 296.1h0M268.5 305.5h0M248.2 302.9h0M243.6 301.1h0M211.8 330.6h0"/><path class="dg" d="M258.1 306.4h0"/><path class="dp" d="M232.4 340.2h0M242.5 284.4h0M223.0 294.8h0"/><path class="dg" d="M267.3 303.8h0"/><path class="dp" d="M245.9 285.3h0M249.8 294.0h0M250.7 294.3h0M222.3 341.1h0M252.2 320.8h0M230.8 326.9h0M232.4 330.9h0M227.4 328.5h0M234.0 318.1h0M229.8 304.4h0"/><path class="dg" d="M202.6 335.9h0"/><path class="dp" d="M235.0 342.2h0M224.4 326.2h0M237.2 311.6h0M229.9 336.6h0M238.5 310.4h0M232.9 340.6h0M226.9 289.3h0M210.4 345.3h0M237.9 295.6h0M253.7 285.1h0"/><path class="dg" d="M222.4 328.6h0"/><path class="dp" d="M220.9 344.8h0M198.9 330.1h0M223.0 341.1h0M245.7 284.6h0M218.6 333.0h0M229.1 323.0h0M224.0 327.8h0M264.0 311.3h0M233.7 290.8h0"/><path class="dg" d="M261.9 291.3h0"/><path class="dp" d="M242.3 339.0h0"/><path class="dg" d="M240.5 295.8h0"/><path class="dp" d="M251.6 315.4h0M246.3 322.0h0M249.1 294.4h0M226.3 316.6h0"/><path class="dg" d="M226.1 308.9h0"/><path class="dp" d="M261.8 298.7h0M254.6 300.0h0M212.6 315.7h0M237.0 342.2h0M223.7 343.2h0"/><path class="dg" d="M253.7 309.2h0"/><path class="dp" d="M197.7 335.8h0M258.0 304.9h0M229.6 292.8h0M256.0 318.5h0M225.5 329.9h0M245.9 317.9h0M257.3 302.6h0M238.0 323.5h0M248.6 287.7h0M235.4 331.3h0M217.0 306.3h0M254.9 309.1h0M221.0 307.9h0M265.1 309.4h0M225.4 296.3h0M225.1 330.4h0M248.2 328.2h0M248.7 333.7h0M255.3 316.3h0M228.2 323.6h0M252.7 330.7h0M262.2 296.0h0M233.7 321.5h0M223.6 333.4h0M244.7 297.4h0M222.3 308.5h0M247.7 294.0h0M248.5 308.8h0"/><path class="dg" d="M222.0 316.0h0"/><path class="dp" d="M238.9 321.6h0M263.6 317.3h0M246.5 299.6h0M236.1 338.4h0M246.0 339.4h0"/><path class="dg" d="M223.1 337.8h0"/><path class="dp" d="M250.5 288.8h0"/><path class="dg" d="M241.4 325.3h0"/><path class="dp" d="M240.5 293.6h0M242.5 309.1h0M254.3 293.2h0M242.7 331.7h0M259.2 286.0h0M239.0 295.6h0M224.6 337.2h0M216.6 333.3h0M251.4 296.4h0M234.7 309.6h0M250.9 293.6h0M231.7 325.4h0M216.7 346.8h0M269.2 293.2h0M245.3 285.2h0M258.7 295.9h0M244.0 325.4h0M265.4 299.8h0"/><path class="dg" d="M251.1 309.3h0"/><path class="dp" d="M201.9 328.4h0M232.1 303.5h0"/><path class="dg" d="M222.4 293.1h0"/><path class="dp" d="M260.9 318.2h0M262.8 293.8h0M219.2 345.6h0M266.4 305.0h0M239.9 283.7h0M223.6 307.7h0M248.9 297.5h0M246.1 300.9h0M235.0 342.3h0M264.0 315.3h0M247.6 330.6h0M241.2 311.5h0M236.1 315.0h0M254.7 310.6h0M252.6 315.0h0M223.9 347.1h0M255.0 323.7h0M248.7 301.7h0M202.3 350.0h0M237.8 286.6h0M234.9 294.3h0"/><path class="dg" d="M227.8 308.6h0M214.0 347.1h0M258.0 326.3h0"/><path class="dp" d="M198.1 343.3h0"/><path class="dg" d="M247.5 299.7h0M238.2 334.4h0"/><path class="dp" d="M235.3 340.2h0M244.2 297.8h0M226.8 340.9h0M234.9 290.8h0M239.0 324.0h0"/><path class="dg" d="M216.0 337.8h0"/><path class="dp" d="M225.1 301.9h0M260.8 298.8h0M265.5 315.6h0"/><path class="dg" d="M251.2 298.1h0"/><path class="dp" d="M236.2 284.0h0"/><path class="dg" d="M202.4 340.4h0"/><path class="dp" d="M232.3 307.5h0M248.1 304.7h0M218.6 342.5h0"/><path class="dg" d="M233.5 321.9h0M212.1 344.3h0"/><path class="dp" d="M228.6 320.9h0"/><path class="dg" d="M257.6 329.0h0"/><path class="dp" d="M248.0 338.7h0M264.1 315.5h0M232.6 289.6h0M198.5 342.2h0M251.8 286.4h0M221.8 330.1h0M233.4 315.6h0"/><path class="dg" d="M215.5 338.0h0"/><path class="dp" d="M238.8 296.6h0M258.5 318.6h0M263.1 295.9h0M230.1 345.5h0M243.9 300.7h0M241.9 285.6h0M249.5 290.0h0M231.3 324.6h0M244.6 288.9h0M263.7 312.0h0M256.8 315.6h0M250.8 292.5h0M237.9 303.1h0M257.3 287.1h0"/><path class="dg" d="M253.2 314.3h0"/><path class="dp" d="M240.8 303.2h0M254.1 308.5h0M241.9 314.8h0M199.4 334.6h0M255.0 306.5h0"/><path class="dg" d="M217.4 310.1h0"/><path class="dp" d="M262.0 287.3h0M227.2 319.7h0M248.1 321.3h0M246.8 320.6h0M233.4 299.0h0M232.0 333.7h0M248.8 302.9h0M257.4 309.0h0M213.1 347.9h0M231.6 313.3h0M215.8 347.9h0M214.1 338.7h0M231.5 305.6h0M231.3 315.5h0M248.6 305.8h0"/><path class="dg" d="M219.7 298.6h0"/><path class="dp" d="M238.7 326.5h0M227.4 305.8h0M231.1 294.8h0M210.8 319.0h0M259.6 300.5h0M264.8 314.9h0M215.1 335.0h0M227.3 292.6h0"/><path class="dg" d="M235.0 334.2h0"/><path class="dp" d="M252.0 309.4h0M224.2 345.9h0M230.0 309.9h0"/><path class="dg" d="M213.3 320.4h0"/><path class="dp" d="M258.4 308.9h0M241.7 287.2h0M213.2 313.5h0M223.4 311.7h0M229.5 339.0h0M224.4 341.5h0M225.2 311.7h0M236.9 286.7h0M221.3 299.3h0M244.3 308.9h0M266.7 310.2h0M255.3 309.7h0M244.1 323.2h0M267.4 307.3h0M234.6 313.5h0M237.7 299.1h0M210.9 349.6h0"/><path class="dg" d="M241.2 315.9h0"/><path class="dp" d="M264.0 305.4h0M245.6 311.5h0M260.4 315.0h0M241.4 322.0h0M219.3 297.9h0M243.5 292.6h0"/><path class="dg" d="M247.2 307.6h0"/><path class="dp" d="M251.9 314.2h0M254.2 304.8h0M249.3 292.2h0M229.9 341.4h0M226.7 300.1h0M233.8 329.2h0M222.2 305.6h0"/><path class="dg" d="M225.7 291.1h0"/><path class="dp" d="M252.6 322.8h0M229.8 305.8h0M250.8 292.9h0M201.6 344.2h0M250.2 327.0h0M254.2 316.2h0M226.5 312.7h0M208.5 349.0h0M206.6 344.5h0M254.3 325.5h0M266.6 298.4h0M223.5 332.4h0M234.8 338.3h0"/><path class="dg" d="M253.0 332.9h0"/><path class="dp" d="M227.4 310.5h0M244.4 338.3h0M260.4 286.1h0M244.4 318.0h0M239.2 342.7h0M260.0 294.7h0M237.8 286.9h0M240.4 285.8h0"/><path class="dg" d="M204.0 325.1h0"/><path class="dp" d="M255.5 321.4h0M231.5 331.6h0M253.7 291.6h0"/><path class="dg" d="M230.8 336.2h0"/><path class="dp" d="M238.6 320.1h0M246.8 331.6h0M224.4 305.0h0M245.9 288.7h0"/><path class="dg" d="M256.5 286.0h0M247.3 334.4h0"/><path class="dp" d="M238.8 322.5h0M226.2 346.3h0M246.6 289.2h0M218.2 346.4h0"/><path class="dg" d="M209.4 336.2h0M257.2 310.8h0"/><path class="dp" d="M225.1 310.5h0M253.1 335.1h0M203.3 332.8h0M253.6 286.0h0"/><path class="dg" d="M223.8 307.9h0"/><path class="dp" d="M246.4 326.5h0M227.0 293.9h0M238.5 307.7h0M245.7 325.1h0M200.5 327.2h0"/><path class="dg" d="M261.1 315.7h0"/><path class="dp" d="M268.6 294.7h0M239.0 337.4h0M250.8 315.2h0"/><path class="dg" d="M221.5 336.1h0"/><path class="dp" d="M243.0 320.2h0M264.1 297.8h0M226.1 317.2h0M253.8 321.2h0M225.0 298.9h0M225.5 339.0h0M229.0 299.6h0M228.1 337.6h0M239.7 305.0h0M247.2 310.2h0M258.3 304.4h0"/><path class="dg" d="M223.5 346.1h0"/><path class="dp" d="M226.2 306.9h0"/><path class="dg" d="M245.1 330.2h0"/><path class="dp" d="M219.7 348.6h0M227.4 341.9h0M243.1 339.9h0M240.5 303.6h0M252.9 328.0h0M238.5 318.1h0M250.8 300.4h0M241.1 320.8h0M267.0 299.0h0"/><path class="dg" d="M236.6 295.8h0"/><path class="dp" d="M268.6 296.1h0M249.9 326.9h0M199.7 344.9h0M225.0 345.2h0M255.4 286.4h0M245.4 333.4h0M232.1 334.0h0"/><path class="dg" d="M235.9 284.6h0"/><path class="dp" d="M250.9 323.8h0M224.1 342.6h0M238.6 320.7h0M254.1 325.3h0M201.8 347.5h0M220.5 342.3h0M243.3 312.6h0M244.6 294.4h0"/><path class="dg" d="M211.8 323.4h0"/><path class="dp" d="M225.9 299.5h0M220.9 341.1h0M258.7 326.9h0M231.7 325.8h0M213.6 311.3h0M250.4 313.4h0M250.8 315.0h0M261.8 299.8h0M224.1 301.6h0M228.9 320.3h0M247.6 299.8h0M232.8 309.7h0M248.1 289.1h0M262.2 301.1h0M247.5 324.8h0M232.0 321.8h0M239.3 342.1h0M266.2 310.4h0M238.2 329.7h0M220.0 298.8h0M205.1 330.6h0M261.0 306.2h0M247.7 302.9h0M192.1 350.4h0M242.1 320.5h0M241.2 320.9h0M217.5 339.9h0M249.6 295.7h0M230.3 322.6h0M245.9 294.7h0M243.9 297.4h0M227.9 316.5h0M223.1 341.7h0M230.9 345.7h0"/><path class="dg" d="M237.8 331.8h0M257.7 329.8h0"/><path class="dp" d="M263.5 293.6h0"/><path class="dg" d="M220.7 314.7h0M267.9 307.7h0"/><path class="dp" d="M225.4 299.5h0M235.9 343.9h0M224.4 291.3h0M211.8 311.0h0"/><path fill="#7DB232" d="M151.0 332.0L154.0 322.0L162.0 308.0L171.4 298.0L182.5 293.5L193.6 289.0L202.8 285.0L211.0 281.0L222.0 278.0L230.0 275.5L226.0 284.0L217.0 296.0L209.0 310.0L201.0 322.0L196.0 332.0L193.0 343.0L189.0 352.5L180.0 358.0L166.0 361.5L154.7 361.5L153.0 356.0L151.0 346.0L152.6 342.0L151.0 335.0Z"/><path class="dg" d="M163.1 331.0h0M196.0 325.1h0M168.7 346.4h0M172.1 302.6h0M175.4 324.6h0M185.3 320.6h0M168.4 351.8h0M172.4 323.3h0M207.9 294.2h0M198.9 295.1h0M170.2 338.2h0M184.6 346.6h0M186.6 302.6h0M200.9 310.0h0M167.7 312.7h0M176.6 339.1h0M174.3 343.3h0M176.6 324.2h0M159.0 324.1h0M199.6 312.0h0M178.7 355.4h0M162.9 331.1h0M182.0 348.0h0M184.3 295.1h0M185.4 300.4h0M184.0 344.5h0M170.1 348.9h0M176.4 327.6h0M173.3 308.3h0M176.0 323.1h0M164.1 339.8h0M221.2 279.1h0M187.5 302.3h0M216.4 282.6h0M182.8 296.9h0M180.7 319.5h0M184.0 298.5h0M205.4 315.1h0M160.9 351.9h0M203.7 287.5h0M201.4 295.1h0M189.8 294.6h0M156.9 324.9h0M193.5 307.3h0M170.7 303.2h0M174.9 306.5h0M155.1 346.9h0M157.6 332.1h0M169.1 344.5h0M189.9 338.8h0M207.8 291.8h0M177.4 350.4h0M205.5 292.9h0M204.0 301.4h0M195.0 295.8h0M209.5 295.8h0M175.1 304.0h0M205.2 302.8h0M220.7 285.0h0M180.2 332.5h0M158.9 334.5h0M166.5 309.6h0M176.5 327.0h0M184.1 310.2h0M160.3 353.7h0M189.0 305.4h0M199.7 317.0h0M181.4 294.1h0M178.2 337.2h0M198.2 293.8h0M185.7 322.4h0M171.8 312.5h0M207.1 307.2h0M192.7 305.1h0M182.6 342.5h0M167.1 357.3h0M156.1 340.1h0M182.6 328.8h0M197.2 291.7h0M153.5 354.8h0M186.6 308.3h0M184.8 321.6h0M202.7 288.7h0M169.0 358.9h0M197.3 304.4h0M200.3 292.3h0M156.0 342.4h0M195.0 310.4h0M186.5 350.0h0M185.4 320.6h0M172.2 319.0h0M168.4 335.2h0M213.1 286.2h0M224.9 279.2h0M186.0 341.7h0M185.8 350.4h0M196.7 320.2h0M197.8 304.5h0M190.2 341.2h0M168.3 317.7h0M175.1 334.5h0M202.7 290.9h0M170.0 303.7h0M174.6 299.9h0M188.1 296.4h0M186.4 328.6h0M186.0 323.8h0M189.3 349.9h0M183.4 343.0h0M193.0 305.5h0M185.1 321.8h0M174.7 334.9h0M209.5 299.8h0M163.8 326.3h0M180.0 314.7h0M193.4 316.3h0M197.4 318.9h0M172.0 345.4h0M152.6 335.9h0M185.1 341.2h0M203.0 298.1h0M217.1 294.4h0M170.2 335.0h0M214.0 295.0h0M176.1 301.8h0M182.3 352.3h0M184.0 345.9h0M164.5 349.2h0M171.0 302.1h0M157.9 357.7h0M156.1 351.6h0M159.8 323.1h0M170.2 359.8h0M173.2 333.1h0M170.0 319.9h0M190.6 306.8h0M158.6 318.5h0M155.9 329.0h0M156.9 355.4h0M185.1 312.6h0M198.8 303.9h0M171.6 342.5h0M195.7 326.3h0M194.4 294.6h0M208.6 286.8h0M160.3 320.3h0M164.8 333.3h0M190.2 335.8h0M174.7 310.6h0M224.8 282.4h0M193.8 297.8h0M186.3 349.0h0M155.7 332.8h0M173.7 299.8h0M170.2 300.4h0M194.0 328.7h0M207.5 299.9h0M199.8 318.9h0M183.7 304.2h0M168.6 348.2h0M190.7 321.0h0M154.5 347.7h0M172.2 338.7h0M203.7 314.1h0M199.4 294.4h0M161.3 333.6h0M208.5 299.4h0M201.7 306.0h0M185.7 352.6h0M167.5 315.6h0M176.9 348.4h0M173.8 317.1h0M183.4 304.2h0M186.1 312.0h0M208.5 300.1h0M173.7 301.0h0M172.9 351.3h0M152.2 348.4h0M173.5 357.7h0M154.1 335.0h0M192.0 320.5h0M174.0 352.8h0M185.9 334.9h0M190.9 325.9h0M168.2 346.4h0M187.7 302.6h0M197.9 318.1h0M174.2 333.4h0M179.8 338.1h0M175.4 348.1h0M200.1 288.9h0M180.1 356.2h0M209.8 298.0h0"/><path class="dg" d="M196.6 336.4h0"/><path class="dp" d="M234.4 299.5h0"/><path class="dg" d="M218.0 310.5h0M205.0 321.5h0M217.5 303.5h0M232.7 293.8h0"/><path class="dp" d="M206.6 306.7h0M230.8 303.0h0"/><path class="dg" d="M212.6 318.2h0M221.7 298.5h0"/><path class="dp" d="M244.6 286.0h0"/><path class="dg" d="M233.6 282.9h0M219.0 308.0h0M208.2 317.5h0M202.1 346.0h0M197.5 339.3h0M219.6 328.3h0M229.7 303.8h0M203.7 331.8h0"/><path class="dp" d="M209.1 329.3h0M218.8 318.0h0M225.1 297.2h0M237.5 290.9h0"/><path class="dg" d="M207.9 337.2h0M211.9 329.7h0M208.8 330.6h0M208.5 324.9h0M201.9 324.5h0M224.2 314.0h0M231.6 301.1h0M200.7 336.4h0M202.7 349.7h0M240.2 291.0h0"/><path class="dp" d="M195.2 338.4h0"/><path class="dg" d="M206.4 345.9h0M231.3 312.0h0M242.1 285.9h0M220.2 327.6h0M210.9 324.1h0M211.7 326.3h0M217.8 315.8h0M236.2 295.7h0M241.8 279.0h0M204.8 321.6h0"/><path class="dp" d="M242.5 284.9h0M212.3 313.8h0M231.7 283.7h0"/><path class="dg" d="M205.0 346.5h0M211.2 338.7h0"/><path class="dp" d="M215.2 327.8h0"/><path class="dg" d="M221.5 318.0h0"/><path class="dp" d="M218.2 299.7h0M205.7 338.4h0M205.9 315.4h0"/><path class="dg" d="M226.4 315.5h0M195.7 337.9h0M232.9 284.2h0"/><path class="dp" d="M240.3 286.7h0"/><path class="dg" d="M216.4 318.8h0M221.0 313.9h0M204.3 328.6h0M213.8 315.0h0"/><path class="dp" d="M203.6 329.2h0"/><path class="dg" d="M221.3 322.4h0M232.2 308.1h0M210.1 333.2h0M205.4 322.7h0M202.9 325.5h0"/><path class="dp" d="M209.3 332.3h0"/><path class="dg" d="M218.2 323.1h0"/><path class="dp" d="M224.3 316.1h0"/><path class="dg" d="M204.0 334.6h0"/><path class="dp" d="M192.8 325.4h0M240.0 281.2h0"/><path class="dg" d="M203.2 345.3h0M234.1 280.9h0M218.6 298.5h0"/><path class="dp" d="M222.6 302.2h0"/><path class="dg" d="M245.1 287.2h0M200.8 331.1h0M237.3 290.8h0"/><path class="dp" d="M236.6 298.1h0"/><path class="dg" d="M201.0 346.6h0"/><path class="dp" d="M193.6 318.5h0M235.5 287.9h0"/><path class="dg" d="M214.9 318.6h0M234.8 293.4h0M201.0 336.7h0"/><path class="dp" d="M205.4 330.3h0M236.0 286.0h0"/><path class="dg" d="M237.6 290.7h0M195.7 343.8h0M216.2 327.2h0M201.1 349.2h0"/><path class="dp" d="M236.8 282.4h0"/><path class="dg" d="M202.0 336.0h0M215.8 326.3h0M238.7 284.2h0M212.6 336.4h0"/><path class="dp" d="M198.4 346.6h0M194.6 323.0h0M214.2 303.9h0"/><path class="dg" d="M230.9 296.3h0M197.6 350.3h0M219.2 296.1h0"/><path class="dp" d="M217.2 305.4h0M228.9 294.3h0"/><path class="dg" d="M220.2 326.9h0"/><path class="dp" d="M194.9 343.8h0M212.4 324.3h0M199.6 346.3h0"/><path class="dg" d="M216.4 324.7h0M203.2 327.3h0M222.2 300.3h0M195.1 340.8h0M227.9 316.6h0"/><path class="dp" d="M236.4 280.1h0"/><path class="dg" d="M240.0 282.4h0M198.8 335.6h0M208.0 317.9h0M214.8 320.2h0M213.4 317.2h0M221.1 333.3h0"/><path class="dp" d="M192.0 327.3h0"/><path class="dg" d="M210.1 343.5h0M209.5 311.3h0M218.4 323.0h0M193.2 344.8h0M233.3 308.2h0M218.5 296.1h0M212.2 327.3h0M203.2 323.8h0M204.2 319.1h0M204.7 340.4h0"/><path class="dp" d="M212.1 332.1h0"/><path class="dg" d="M193.4 349.5h0M223.9 320.1h0"/><path class="dp" d="M217.1 295.9h0M218.3 302.6h0"/><path class="dg" d="M218.5 315.1h0"/><path class="dp" d="M236.1 284.6h0"/><path class="dg" d="M224.5 288.5h0M208.8 329.6h0"/><path class="dp" d="M207.8 312.4h0"/><path class="dg" d="M201.5 330.9h0M226.1 311.7h0M207.4 329.1h0"/><path class="dp" d="M217.6 302.0h0"/><path class="dg" d="M198.4 336.5h0M198.3 334.3h0"/><path class="dp" d="M208.9 324.5h0"/><path class="dg" d="M233.8 303.1h0M198.3 343.1h0M202.7 345.4h0M204.2 328.6h0M234.0 289.5h0"/><path class="dp" d="M212.6 336.2h0"/><path class="dg" d="M207.6 331.5h0"/><path class="dp" d="M199.5 329.7h0"/><path class="dg" d="M232.9 294.6h0"/><path class="dp" d="M242.0 293.6h0M216.0 323.6h0M197.9 336.3h0"/><path class="dg" d="M204.5 335.9h0"/><path class="dp" d="M192.0 327.5h0"/><path class="dg" d="M206.7 336.9h0"/><path class="dp" d="M218.0 312.3h0"/><path class="dg" d="M209.3 314.6h0M204.6 337.0h0M232.8 290.3h0M201.3 348.4h0M213.2 332.5h0M211.4 322.7h0M213.3 317.2h0M207.5 313.8h0M203.6 321.6h0M220.5 335.5h0M198.1 343.1h0"/><path class="dp" d="M227.7 316.1h0"/><path class="dg" d="M197.2 336.4h0M238.7 277.5h0"/><path class="dp" d="M203.8 322.8h0"/><path class="dg" d="M212.6 337.6h0M247.1 283.1h0M221.0 310.9h0"/><path class="dp" d="M195.2 343.8h0"/><path class="dg" d="M196.7 343.2h0M218.2 339.1h0M212.8 339.5h0"/><path class="dp" d="M236.6 280.3h0M225.0 310.2h0"/><path class="dg" d="M221.7 315.0h0"/><path class="dp" d="M219.5 307.8h0"/><path class="dg" d="M220.5 320.3h0M220.8 320.9h0M227.6 295.2h0M222.8 295.4h0M217.8 338.1h0"/><path class="dp" d="M218.4 314.0h0"/><path class="dg" d="M213.5 321.9h0M211.6 322.4h0M217.3 302.2h0"/><path class="dp" d="M223.7 299.6h0M241.8 277.2h0"/><path class="dg" d="M231.3 288.6h0M203.9 329.5h0M200.5 330.0h0"/><path class="dp" d="M195.4 319.5h0M200.8 346.0h0M223.8 302.1h0"/><path class="dg" d="M217.0 333.0h0M213.8 335.1h0"/><path class="dp" d="M227.3 310.3h0"/><path class="dg" d="M219.1 315.0h0M215.6 315.2h0M203.2 327.0h0M198.2 333.5h0M227.4 310.2h0M194.3 350.4h0M220.7 320.8h0M202.3 338.6h0M215.3 319.1h0"/><path class="dp" d="M225.7 296.5h0"/><path class="dg" d="M217.2 326.3h0M235.5 291.7h0M196.1 351.4h0"/><path class="dp" d="M222.4 307.6h0M214.3 302.5h0"/><path class="dg" d="M206.8 325.3h0"/><path class="dp" d="M198.8 334.9h0"/><path class="dg" d="M218.2 329.6h0"/><path class="dp" d="M233.0 305.2h0"/><path class="dg" d="M225.9 311.1h0"/><path class="dp" d="M244.6 280.3h0"/><path class="dg" d="M210.2 327.7h0M229.3 296.7h0"/><path class="dp" d="M241.7 279.9h0"/><path class="dg" d="M217.1 327.3h0M215.2 321.1h0"/><path class="dp" d="M214.2 300.8h0"/><path class="dg" d="M212.2 333.0h0"/><path class="dp" d="M195.5 324.2h0M217.6 306.4h0"/><path class="dg" d="M207.0 340.2h0M242.4 290.0h0"/><path class="dp" d="M205.1 333.6h0"/><path class="dg" d="M211.0 319.5h0M201.0 349.6h0"/><path class="dp" d="M211.6 318.0h0"/><path class="dg" d="M213.0 329.9h0"/><path class="dp" d="M209.2 318.3h0"/><path class="dg" d="M205.2 338.5h0M208.7 342.7h0M225.6 287.5h0M225.6 307.7h0M242.5 281.9h0M206.4 318.5h0M218.8 330.0h0M192.5 346.8h0M222.2 299.0h0M212.8 318.2h0"/><path class="dp" d="M231.1 307.6h0"/><path class="dg" d="M215.4 319.8h0M202.6 324.1h0"/><path class="dp" d="M233.5 302.9h0"/><path class="dg" d="M212.0 318.0h0"/><path class="dp" d="M240.7 295.1h0M197.8 342.6h0M197.8 337.4h0"/><path class="dg" d="M222.8 315.6h0M225.4 322.4h0M212.2 328.2h0"/><path class="dp" d="M213.8 320.0h0"/><path class="dg" d="M199.4 343.0h0M230.8 284.3h0"/><path class="dp" d="M230.7 284.5h0"/><path class="dg" d="M212.2 321.4h0"/><path class="dp" d="M203.5 321.1h0"/><path class="dg" d="M232.0 284.5h0"/><path class="dp" d="M216.6 300.6h0"/><path class="dg" d="M210.1 325.8h0M225.2 312.1h0"/><path class="dp" d="M195.3 336.1h0M199.5 337.8h0M235.8 288.1h0"/><path class="dg" d="M203.5 333.0h0M209.5 329.8h0M211.3 310.3h0M198.3 329.1h0M245.6 288.2h0M208.6 348.3h0M229.3 312.5h0"/><path class="dp" d="M203.0 315.5h0M221.7 294.5h0"/><path class="dg" d="M201.4 330.5h0M234.7 306.5h0M219.0 332.8h0M214.8 309.8h0M200.4 329.3h0M209.6 336.6h0M199.9 351.8h0M204.4 328.2h0"/><path class="dp" d="M234.5 280.5h0"/><path class="dg" d="M214.3 334.7h0M209.7 321.9h0M224.9 322.0h0M211.8 338.4h0"/><path class="dp" d="M218.6 303.5h0"/><path class="dg" d="M236.2 298.3h0"/><path class="dp" d="M206.1 334.3h0M242.6 282.6h0"/><path class="dg" d="M206.6 316.6h0M212.6 331.9h0M240.8 291.2h0M215.9 341.5h0"/><path class="dp" d="M201.3 338.6h0M205.6 332.7h0"/><path class="dg" d="M203.6 333.0h0"/><path class="dp" d="M217.6 312.5h0"/><path class="dg" d="M219.1 313.1h0M239.7 291.0h0M221.0 327.6h0M220.0 329.9h0M225.9 288.5h0M211.2 315.9h0M214.4 323.3h0"/><path class="dp" d="M235.8 303.6h0"/><path class="dg" d="M208.2 335.3h0M237.4 288.4h0"/><path class="dg" d="M201.3 217.8h0M216.6 214.0h0M232.1 218.7h0M249.1 210.9h0M208.8 226.0h0M229.7 224.4h0M248.3 219.9h0M168.6 234.0h0M215.7 234.0h0M242.2 233.5h0M246.5 236.1h0M202.2 240.0h0M218.3 240.4h0M233.5 241.3h0M242.2 238.7h0M181.0 252.3h0M195.6 254.3h0M205.7 250.0h0M223.9 251.7h0M229.7 247.4h0M233.5 245.7h0M237.0 249.1h0M244.8 248.8h0M210.0 256.0h0M216.0 257.8h0M168.5 233.9h0M308.4 186.8h0M309.3 192.3h0M300.0 189.7h0M302.0 191.0h0M293.6 194.7h0M268.7 197.9h0M265.9 202.7h0M258.5 208.6h0M260.3 211.9h0M250.2 210.4h0M252.2 210.8h0M266.8 210.8h0M305.6 207.7h0M304.7 210.4h0M310.2 213.2h0M311.2 215.0h0M293.6 214.0h0M286.2 212.3h0M283.4 215.0h0M320.4 213.2h0M287.1 220.0h0M285.3 217.8h0M248.9 219.3h0M314.0 224.3h0M310.2 225.2h0M283.4 223.4h0M264.0 226.7h0M267.7 228.0h0M270.5 227.4h0M301.9 232.6h0M306.2 232.6h0M251.1 234.5h0M270.5 231.7h0M272.3 234.5h0M267.7 236.3h0M279.7 234.5h0M276.0 234.5h0M258.5 240.0h0M264.0 240.0h0M263.1 243.7h0M288.0 242.8h0M242.8 245.5h0M267.7 247.4h0M275.1 249.2h0M279.7 252.0h0M250.2 254.8h0M254.8 255.7h0M299.6 258.3h0M276.7 265.3h0M265.6 277.1h0M264.9 281.7h0M273.9 294.5h0M288.5 301.5h0M288.0 301.8h0M278.0 314.8h0M258.5 326.8h0M418.0 220.0h0M151.3 366.3h0M157.4 366.0h0M167.8 366.3h0M171.3 366.3h0M179.1 366.0h0M190.4 357.6h0M200.0 357.6h0M196.5 355.9h0M213.0 354.1h0M219.1 362.8h0M209.6 351.5h0"/><path class="eg" d="M201.3 217.8h0M216.6 214.0h0M232.1 218.7h0M249.1 210.9h0M208.8 226.0h0M229.7 224.4h0M248.3 219.9h0M168.6 234.0h0M215.7 234.0h0M242.2 233.5h0M246.5 236.1h0M202.2 240.0h0M218.3 240.4h0M233.5 241.3h0M242.2 238.7h0M181.0 252.3h0M195.6 254.3h0M205.7 250.0h0M223.9 251.7h0M229.7 247.4h0M233.5 245.7h0M237.0 249.1h0M244.8 248.8h0M210.0 256.0h0M216.0 257.8h0M168.5 233.9h0M308.4 186.8h0M309.3 192.3h0M300.0 189.7h0M302.0 191.0h0M293.6 194.7h0M268.7 197.9h0M265.9 202.7h0M258.5 208.6h0M260.3 211.9h0M250.2 210.4h0M252.2 210.8h0M266.8 210.8h0M305.6 207.7h0M304.7 210.4h0M310.2 213.2h0M311.2 215.0h0M293.6 214.0h0M286.2 212.3h0M283.4 215.0h0M320.4 213.2h0M287.1 220.0h0M285.3 217.8h0M248.9 219.3h0M314.0 224.3h0M310.2 225.2h0M283.4 223.4h0M264.0 226.7h0M267.7 228.0h0M270.5 227.4h0M301.9 232.6h0M306.2 232.6h0M251.1 234.5h0M270.5 231.7h0M272.3 234.5h0M267.7 236.3h0M279.7 234.5h0M276.0 234.5h0M258.5 240.0h0M264.0 240.0h0M263.1 243.7h0M288.0 242.8h0M242.8 245.5h0M267.7 247.4h0M275.1 249.2h0M279.7 252.0h0M250.2 254.8h0M254.8 255.7h0M299.6 258.3h0M276.7 265.3h0M265.6 277.1h0M264.9 281.7h0M273.9 294.5h0M288.5 301.5h0M288.0 301.8h0M278.0 314.8h0M258.5 326.8h0M418.0 220.0h0M151.3 366.3h0M157.4 366.0h0M167.8 366.3h0M171.3 366.3h0M179.1 366.0h0M190.4 357.6h0M200.0 357.6h0M196.5 355.9h0M213.0 354.1h0M219.1 362.8h0M209.6 351.5h0"/><path class="dp" d="M242.2 214.0h0M240.1 219.6h0M225.1 234.0h0M224.8 237.0h0M232.6 237.0h0M248.3 232.6h0M212.6 243.0h0M213.5 244.5h0M239.6 243.0h0M245.3 244.0h0M161.8 247.0h0M160.8 249.0h0M170.9 247.4h0M168.3 251.7h0M186.2 252.6h0M186.2 255.7h0M190.9 255.2h0M200.1 252.3h0M222.2 249.1h0M220.5 250.8h0M230.0 249.1h0M241.3 245.7h0M249.1 249.1h0M215.7 251.2h0M216.6 252.6h0M202.7 257.8h0M244.0 252.6h0M145.4 233.9h0M133.8 265.5h0M161.5 266.7h0M171.2 247.8h0M168.5 251.7h0M145.4 302.1h0M144.8 234.0h0M273.8 197.9h0M259.4 202.7h0M255.7 211.3h0M242.2 213.8h0M291.4 207.7h0M296.4 212.3h0M290.0 215.0h0M319.5 208.6h0M322.3 211.3h0M317.6 213.2h0M333.3 210.8h0M337.0 214.1h0M278.8 218.7h0M282.0 218.2h0M314.0 218.7h0M324.1 223.4h0M330.2 220.6h0M260.3 226.7h0M256.3 228.0h0M278.8 227.0h0M332.4 228.5h0M313.0 231.7h0M241.8 228.9h0M250.2 231.7h0M247.4 234.5h0M289.0 231.7h0M256.6 238.2h0M322.3 240.0h0M301.0 240.9h0M299.2 241.8h0M333.3 242.8h0M293.6 240.0h0M282.5 240.0h0M309.3 248.3h0M241.8 242.8h0M249.2 249.2h0M244.6 251.1h0M289.9 253.0h0M300.0 253.9h0M258.5 253.0h0M309.4 248.7h0M300.7 253.5h0M321.0 240.3h0M289.2 251.7h0M300.3 253.1h0M305.9 263.9h0M304.8 266.0h0M320.5 270.6h0M280.2 255.6h0M285.7 259.0h0M289.2 260.4h0M287.1 262.5h0M271.1 265.3h0M280.9 266.0h0M285.0 267.8h0M286.4 269.5h0M280.9 270.9h0M279.5 273.0h0M262.1 270.2h0M273.9 273.0h0M267.6 274.8h0M289.2 275.0h0M273.9 277.1h0M276.0 279.2h0M270.4 279.9h0M267.0 279.2h0M312.2 275.7h0M315.6 276.4h0M328.2 279.2h0M331.6 279.2h0M301.7 277.8h0M284.3 280.6h0M279.5 283.4h0M293.4 284.5h0M297.6 282.0h0M301.7 283.4h0M301.7 285.5h0M313.5 281.3h0M315.0 283.4h0M312.9 287.6h0M289.2 286.9h0M291.3 289.6h0M287.8 289.0h0M298.9 287.6h0M296.8 289.6h0M311.5 288.2h0M337.9 288.2h0M319.8 291.0h0M325.4 292.4h0M280.9 287.6h0M282.3 291.7h0M284.3 294.5h0M286.4 295.9h0M293.4 292.4h0M294.8 293.8h0M298.9 295.9h0M301.7 293.8h0M308.7 295.2h0M300.3 298.7h0M301.0 302.2h0M310.8 300.0h0M324.0 302.2h0M272.5 297.3h0M278.1 298.7h0M276.7 302.2h0M280.9 302.9h0M299.0 302.0h0M311.0 301.0h0M324.0 302.2h0M328.7 307.8h0M316.7 309.2h0M299.0 309.6h0M286.0 308.3h0M278.8 308.3h0M286.0 314.8h0M282.5 318.5h0M284.4 321.3h0M277.0 321.3h0M296.4 323.0h0M304.7 325.0h0M301.0 327.7h0M286.0 325.9h0M279.7 327.7h0M273.0 326.0h0M269.6 328.7h0M324.0 326.0h0M316.7 333.0h0M281.6 340.7h0M273.0 340.7h0M266.0 341.6h0M262.0 338.8h0M256.6 342.5h0M251.0 344.4h0M252.0 362.8h0M240.0 345.0h0M193.6 365.6h0M204.7 362.0h0M221.0 357.0h0M235.0 358.0h0M346.9 190.5h0M355.7 186.6h0M355.0 192.4h0M381.1 194.7h0M402.3 189.8h0M342.8 207.8h0M341.2 213.6h0M341.8 218.7h0M370.0 213.2h0M375.8 213.2h0M382.2 215.5h0M363.8 227.0h0M365.4 232.5h0M368.8 232.5h0M346.5 232.5h0M376.9 234.0h0M391.9 224.5h0M393.5 232.5h0M414.3 225.2h0M444.3 214.8h0M443.4 220.0h0M355.7 246.0h0M341.2 250.0h0M375.0 256.3h0M341.2 271.8h0M381.1 273.2h0M355.7 277.0h0M438.0 268.5h0M476.5 232.5h0M474.2 236.2h0M550.3 243.6h0M505.3 259.1h0M543.2 269.5h0M344.0 271.4h0M368.6 281.5h0M380.9 273.3h0M347.6 288.5h0M344.9 315.8h0M473.3 282.3h0M530.0 288.3h0M502.2 318.5h0M436.8 270.0h0M162.6 366.3h0M172.2 363.7h0M180.9 359.3h0M181.7 357.6h0M190.4 362.0h0M193.9 359.3h0M194.3 366.3h0M205.2 362.0h0M210.4 355.9h0M216.5 355.9h0M220.9 356.7h0M225.2 357.6h0M230.4 352.4h0M235.3 358.5h0M147.8 338.5h0M150.4 361.0h0M154.0 354.0h0"/><path class="ep" d="M242.2 214.0h0M240.1 219.6h0M225.1 234.0h0M224.8 237.0h0M232.6 237.0h0M248.3 232.6h0M212.6 243.0h0M213.5 244.5h0M239.6 243.0h0M245.3 244.0h0M161.8 247.0h0M160.8 249.0h0M170.9 247.4h0M168.3 251.7h0M186.2 252.6h0M186.2 255.7h0M190.9 255.2h0M200.1 252.3h0M222.2 249.1h0M220.5 250.8h0M230.0 249.1h0M241.3 245.7h0M249.1 249.1h0M215.7 251.2h0M216.6 252.6h0M202.7 257.8h0M244.0 252.6h0M145.4 233.9h0M133.8 265.5h0M161.5 266.7h0M171.2 247.8h0M168.5 251.7h0M145.4 302.1h0M144.8 234.0h0M273.8 197.9h0M259.4 202.7h0M255.7 211.3h0M242.2 213.8h0M291.4 207.7h0M296.4 212.3h0M290.0 215.0h0M319.5 208.6h0M322.3 211.3h0M317.6 213.2h0M333.3 210.8h0M337.0 214.1h0M278.8 218.7h0M282.0 218.2h0M314.0 218.7h0M324.1 223.4h0M330.2 220.6h0M260.3 226.7h0M256.3 228.0h0M278.8 227.0h0M332.4 228.5h0M313.0 231.7h0M241.8 228.9h0M250.2 231.7h0M247.4 234.5h0M289.0 231.7h0M256.6 238.2h0M322.3 240.0h0M301.0 240.9h0M299.2 241.8h0M333.3 242.8h0M293.6 240.0h0M282.5 240.0h0M309.3 248.3h0M241.8 242.8h0M249.2 249.2h0M244.6 251.1h0M289.9 253.0h0M300.0 253.9h0M258.5 253.0h0M309.4 248.7h0M300.7 253.5h0M321.0 240.3h0M289.2 251.7h0M300.3 253.1h0M305.9 263.9h0M304.8 266.0h0M320.5 270.6h0M280.2 255.6h0M285.7 259.0h0M289.2 260.4h0M287.1 262.5h0M271.1 265.3h0M280.9 266.0h0M285.0 267.8h0M286.4 269.5h0M280.9 270.9h0M279.5 273.0h0M262.1 270.2h0M273.9 273.0h0M267.6 274.8h0M289.2 275.0h0M273.9 277.1h0M276.0 279.2h0M270.4 279.9h0M267.0 279.2h0M312.2 275.7h0M315.6 276.4h0M328.2 279.2h0M331.6 279.2h0M301.7 277.8h0M284.3 280.6h0M279.5 283.4h0M293.4 284.5h0M297.6 282.0h0M301.7 283.4h0M301.7 285.5h0M313.5 281.3h0M315.0 283.4h0M312.9 287.6h0M289.2 286.9h0M291.3 289.6h0M287.8 289.0h0M298.9 287.6h0M296.8 289.6h0M311.5 288.2h0M337.9 288.2h0M319.8 291.0h0M325.4 292.4h0M280.9 287.6h0M282.3 291.7h0M284.3 294.5h0M286.4 295.9h0M293.4 292.4h0M294.8 293.8h0M298.9 295.9h0M301.7 293.8h0M308.7 295.2h0M300.3 298.7h0M301.0 302.2h0M310.8 300.0h0M324.0 302.2h0M272.5 297.3h0M278.1 298.7h0M276.7 302.2h0M280.9 302.9h0M299.0 302.0h0M311.0 301.0h0M324.0 302.2h0M328.7 307.8h0M316.7 309.2h0M299.0 309.6h0M286.0 308.3h0M278.8 308.3h0M286.0 314.8h0M282.5 318.5h0M284.4 321.3h0M277.0 321.3h0M296.4 323.0h0M304.7 325.0h0M301.0 327.7h0M286.0 325.9h0M279.7 327.7h0M273.0 326.0h0M269.6 328.7h0M324.0 326.0h0M316.7 333.0h0M281.6 340.7h0M273.0 340.7h0M266.0 341.6h0M262.0 338.8h0M256.6 342.5h0M251.0 344.4h0M252.0 362.8h0M240.0 345.0h0M193.6 365.6h0M204.7 362.0h0M221.0 357.0h0M235.0 358.0h0M346.9 190.5h0M355.7 186.6h0M355.0 192.4h0M381.1 194.7h0M402.3 189.8h0M342.8 207.8h0M341.2 213.6h0M341.8 218.7h0M370.0 213.2h0M375.8 213.2h0M382.2 215.5h0M363.8 227.0h0M365.4 232.5h0M368.8 232.5h0M346.5 232.5h0M376.9 234.0h0M391.9 224.5h0M393.5 232.5h0M414.3 225.2h0M444.3 214.8h0M443.4 220.0h0M355.7 246.0h0M341.2 250.0h0M375.0 256.3h0M341.2 271.8h0M381.1 273.2h0M355.7 277.0h0M438.0 268.5h0M476.5 232.5h0M474.2 236.2h0M550.3 243.6h0M505.3 259.1h0M543.2 269.5h0M344.0 271.4h0M368.6 281.5h0M380.9 273.3h0M347.6 288.5h0M344.9 315.8h0M473.3 282.3h0M530.0 288.3h0M502.2 318.5h0M436.8 270.0h0M162.6 366.3h0M172.2 363.7h0M180.9 359.3h0M181.7 357.6h0M190.4 362.0h0M193.9 359.3h0M194.3 366.3h0M205.2 362.0h0M210.4 355.9h0M216.5 355.9h0M220.9 356.7h0M225.2 357.6h0M230.4 352.4h0M235.3 358.5h0M147.8 338.5h0M150.4 361.0h0M154.0 354.0h0"/>
<line x1="70" y1="388.80" x2="505" y2="173.26" stroke="#74269a" stroke-width="3.5"/>
<line x1="70" y1="388.80" x2="505" y2="173.26" stroke="#2e063c" stroke-width="1.7" stroke-dasharray="9 3.5"/>
<line x1="110" y1="391.96" x2="345" y2="175.43" stroke="#80b935" stroke-width="3.1"/>
<line x1="110" y1="391.96" x2="345" y2="175.43" stroke="#0e1a06" stroke-width="1.6" stroke-dasharray="10 3"/>
</g>
<rect x="76" y="179.3" width="484" height="208.7" fill="none" stroke="#404040" stroke-width="1.2"/>
<line x1="76" y1="364.81" x2="80" y2="364.81" stroke="#2a2a2a" stroke-width="1.3"/>
<line x1="560" y1="364.81" x2="556" y2="364.81" stroke="#2a2a2a" stroke-width="1.3"/>
<line x1="76" y1="318.43" x2="80" y2="318.43" stroke="#2a2a2a" stroke-width="1.3"/>
<line x1="560" y1="318.43" x2="556" y2="318.43" stroke="#2a2a2a" stroke-width="1.3"/>
<line x1="76" y1="272.06" x2="80" y2="272.06" stroke="#2a2a2a" stroke-width="1.3"/>
<line x1="560" y1="272.06" x2="556" y2="272.06" stroke="#2a2a2a" stroke-width="1.3"/>
<line x1="76" y1="225.68" x2="80" y2="225.68" stroke="#2a2a2a" stroke-width="1.3"/>
<line x1="560" y1="225.68" x2="556" y2="225.68" stroke="#2a2a2a" stroke-width="1.3"/>
<text x="70" y="369.61" text-anchor="end" class="tk2" textLength="7.2" lengthAdjust="spacingAndGlyphs">0</text>
<text x="70" y="323.23" text-anchor="end" class="tk2" textLength="23.4" lengthAdjust="spacingAndGlyphs">200</text>
<text x="70" y="276.86" text-anchor="end" class="tk2" textLength="23.4" lengthAdjust="spacingAndGlyphs">400</text>
<text x="70" y="230.48" text-anchor="end" class="tk2" textLength="23.4" lengthAdjust="spacingAndGlyphs">600</text>
<text x="70" y="184.10" text-anchor="end" class="tk2" textLength="23.4" lengthAdjust="spacingAndGlyphs">800</text>
<text x="76.00" y="406" text-anchor="middle" class="tk2" textLength="32.5" lengthAdjust="spacingAndGlyphs">-0.01</text>
<line x1="156.67" y1="388" x2="156.67" y2="384" stroke="#2a2a2a" stroke-width="1.3"/>
<line x1="156.67" y1="179.3" x2="156.67" y2="183.3" stroke="#2a2a2a" stroke-width="1.3"/>
<text x="156.67" y="406" text-anchor="middle" class="tk2" textLength="7.2" lengthAdjust="spacingAndGlyphs">0</text>
<line x1="237.33" y1="388" x2="237.33" y2="384" stroke="#2a2a2a" stroke-width="1.3"/>
<line x1="237.33" y1="179.3" x2="237.33" y2="183.3" stroke="#2a2a2a" stroke-width="1.3"/>
<text x="237.33" y="406" text-anchor="middle" class="tk2" textLength="27.2" lengthAdjust="spacingAndGlyphs">0.01</text>
<line x1="318.00" y1="388" x2="318.00" y2="384" stroke="#2a2a2a" stroke-width="1.3"/>
<line x1="318.00" y1="179.3" x2="318.00" y2="183.3" stroke="#2a2a2a" stroke-width="1.3"/>
<text x="318.00" y="406" text-anchor="middle" class="tk2" textLength="27.2" lengthAdjust="spacingAndGlyphs">0.02</text>
<line x1="398.67" y1="388" x2="398.67" y2="384" stroke="#2a2a2a" stroke-width="1.3"/>
<line x1="398.67" y1="179.3" x2="398.67" y2="183.3" stroke="#2a2a2a" stroke-width="1.3"/>
<text x="398.67" y="406" text-anchor="middle" class="tk2" textLength="27.2" lengthAdjust="spacingAndGlyphs">0.03</text>
<line x1="479.33" y1="388" x2="479.33" y2="384" stroke="#2a2a2a" stroke-width="1.3"/>
<line x1="479.33" y1="179.3" x2="479.33" y2="183.3" stroke="#2a2a2a" stroke-width="1.3"/>
<text x="479.33" y="406" text-anchor="middle" class="tk2" textLength="27.2" lengthAdjust="spacingAndGlyphs">0.04</text>
<text x="560.00" y="406" text-anchor="middle" class="tk2" textLength="27.2" lengthAdjust="spacingAndGlyphs">0.05</text>
<text x="100.9" y="207.9" class="bold">b</text>
<text x="318.4" y="427" text-anchor="middle" class="lab2" textLength="213" lengthAdjust="spacingAndGlyphs">Δ Plant N Uptake [gN m<tspan dy="-5" font-size="10">-2</tspan><tspan dy="5"> d</tspan><tspan dy="-5" font-size="10">-1</tspan><tspan dy="5">]</tspan></text>
<text transform="translate(19.7,284.6) rotate(-90)" text-anchor="middle" class="lab2" textLength="93" lengthAdjust="spacingAndGlyphs">Δ Spring NPP</text>
<text transform="translate(38.5,283) rotate(-90)" text-anchor="middle" class="lab2" textLength="129" lengthAdjust="spacingAndGlyphs">[gC m<tspan dy="-5" font-size="10">-2</tspan><tspan dy="5"> season</tspan><tspan dy="-5" font-size="10">-1</tspan><tspan dy="5">]</tspan></text>
<rect x="360.4" y="307.3" width="120.7" height="66.8" fill="#fff" stroke="#333" stroke-width="1"/>
<circle cx="378.9" cy="324.2" r="2.7" fill="#7E2F8E"/>
<circle cx="378.9" cy="357.1" r="2.7" fill="#77AC30"/>
<text x="398.3" y="320.6" class="lg2" textLength="39.5" lengthAdjust="spacingAndGlyphs">Spring:</text>
<text x="398.3" y="337.9" class="lg2" textLength="56.3" lengthAdjust="spacingAndGlyphs">R<tspan dy="-6" font-size="9">2</tspan><tspan dy="6"> = 0.47</tspan></text>
<text x="398.3" y="352.2" class="lg2" textLength="78.8" lengthAdjust="spacingAndGlyphs">Fall + Winter:</text>
<text x="398.3" y="369.3" class="lg2" textLength="56.3" lengthAdjust="spacingAndGlyphs">R<tspan dy="-6" font-size="9">2</tspan><tspan dy="6"> = 0.69</tspan></text>
</svg></body></html>
